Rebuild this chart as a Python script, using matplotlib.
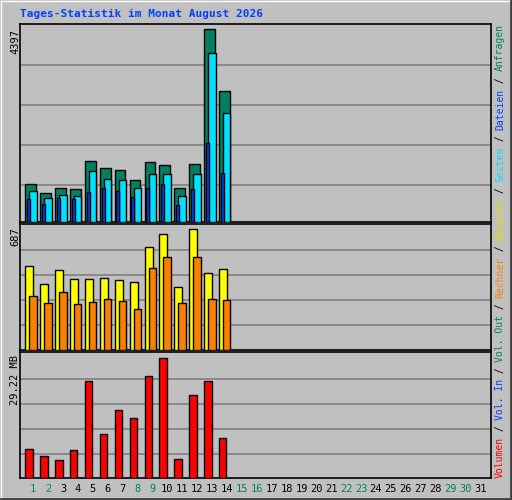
import matplotlib
matplotlib.use("Agg")
import matplotlib.pyplot as plt
from matplotlib.patches import Rectangle

days = list(range(1, 15))
hits = [870, 664, 779, 756, 1397, 1237, 1191, 962, 1374, 1305, 779, 1328, 4397, 2977]
files = [710, 550, 618, 595, 1168, 985, 962, 779, 1099, 1099, 595, 1099, 3847, 2473]
pages = [527, 412, 550, 527, 687, 779, 710, 573, 779, 870, 389, 756, 1809, 1122]
visits = [475, 372, 452, 401, 401, 406, 395, 384, 584, 658, 355, 687, 435, 458]
sites = [309, 269, 332, 263, 275, 292, 281, 235, 464, 527, 269, 527, 292, 286]
volume_mb = [7.16, 5.45, 4.48, 6.92, 23.52, 10.83, 16.44, 14.49, 24.74, 29.22, 4.72, 20.1, 23.52, 9.85]
all_days = [str(d) for d in range(1, 32)]
weekend = {1, 2, 8, 9, 15, 16, 22, 23, 29, 30}
title = "Tages-Statistik im Monat August 2026"

W, H = 512, 500
fig = plt.figure(figsize=(W/100, H/100), dpi=100)
fig.patch.set_facecolor("#C0C0C0")
mono = "DejaVu Sans Mono"

def fx(px): return px / W
def fy(py): return 1 - py / H

# 3D border
fig.add_artist(plt.Line2D([fx(0.5), fx(511.5)], [fy(0.5), fy(0.5)], color="white", lw=1))
fig.add_artist(plt.Line2D([fx(0.5), fx(0.5)], [fy(0.5), fy(499.5)], color="white", lw=1))
fig.add_artist(plt.Line2D([fx(0.5), fx(511.5)], [fy(499), fy(499)], color="#404040", lw=2))
fig.add_artist(plt.Line2D([fx(511), fx(511)], [fy(0.5), fy(499.5)], color="#404040", lw=2))

px_per_day = 14.9
x0 = 1 - (33.3 - 20) / px_per_day
x1 = 31 + (491 - 480.3) / px_per_day
u = 1 / px_per_day  # one pixel in data units

def make_ax(top, bottom):
    ax = fig.add_axes([fx(20), fy(bottom), fx(491) - fx(20), (bottom - top) / H])
    ax.set_facecolor("#C0C0C0")
    ax.set_xlim(x0, x1)
    ax.set_xticks([]); ax.set_yticks([])
    for s in ax.spines.values():
        s.set_color("black"); s.set_linewidth(1.2)
    return ax

def grid(ax, top, bottom, base, maxy, maxval, ys):
    ymax = maxval * (bottom - top) / (base - maxy)
    ax.set_ylim(0, ymax)
    for y in ys:
        ax.axhline(maxval * (base - y) / (base - maxy), color="#808080", lw=1.2, zorder=0)

kw = dict(edgecolor="black", linewidth=1, align="edge", zorder=3)

# Top panel
ax1 = make_ax(24, 222)
grid(ax1, 24, 222, 222, 29, 4397, [65, 105, 145, 185])
ax1.bar([d - 8*u for d in days], hits, width=10.7*u, color="#008060", **kw)
ax1.bar([d - 4*u for d in days], files, width=7.4*u, color="#00E0FF", **kw)
ax1.bar([d - 6.3*u for d in days], pages, width=3*u, color="#0040FF", **kw)

# Middle panel
ax2 = make_ax(224, 350)
grid(ax2, 224, 350, 349, 228, 687, [249, 274, 299, 324])
ax2.bar([d - 8*u for d in days], visits, width=8*u, color="#FFFF00", **kw)
ax2.bar([d - 4*u for d in days], sites, width=7.4*u, color="#FF8000", **kw)

# Bottom panel
ax3 = make_ax(352, 478)
grid(ax3, 352, 478, 476, 356, 29.22, [377, 402, 427, 452])
ax3.bar([d - 8*u for d in days], volume_mb, width=7.4*u, color="#FF0000", **kw)

# Title
fig.text(fx(20), fy(14), title, color="#0040FF", fontsize=8, fontweight="bold",
         family=mono, va="center", ha="left")

# Y labels
for lab, ytop in [("4397", 29), ("687", 227), ("29.22 MB", 355)]:
    fig.text(fx(15), fy(ytop), lab, rotation=90, fontsize=7.5, family=mono,
             va="top", ha="center", color="black")

# Day labels
for i, lab in enumerate(all_days):
    d = i + 1
    xp = 33.3 + i * px_per_day
    fig.text(fx(xp), fy(489), lab, ha="center", va="center", fontsize=7.5, family=mono,
             color="#008060" if d in weekend else "black")

# Right legend
pieces = [("Volumen", "#FF0000"), (" / ", "black"), ("Vol. In", "#0040FF"), (" / ", "black"),
          ("Vol. Out", "#008060"), (" / ", "black"), ("Rechner", "#FF8000"), (" / ", "black"),
          ("Besuche", "#E0E000"), (" / ", "black"), ("Seiten", "#00E0FF"), (" / ", "black"),
          ("Dateien", "#0040FF"), (" / ", "black"), ("Anfragen", "#008060")]
nchar = sum(len(p) for p, _ in pieces)
ybot, ytop = 478, 25
cw = (ybot - ytop) / nchar
pos = ybot
for txt, col in pieces:
    fig.text(fx(500), fy(pos), txt, rotation=90, color=col, fontsize=7, family=mono,
             va="bottom", ha="center")
    pos -= len(txt) * cw

fig.savefig("out.png", dpi=100, facecolor=fig.get_facecolor())
